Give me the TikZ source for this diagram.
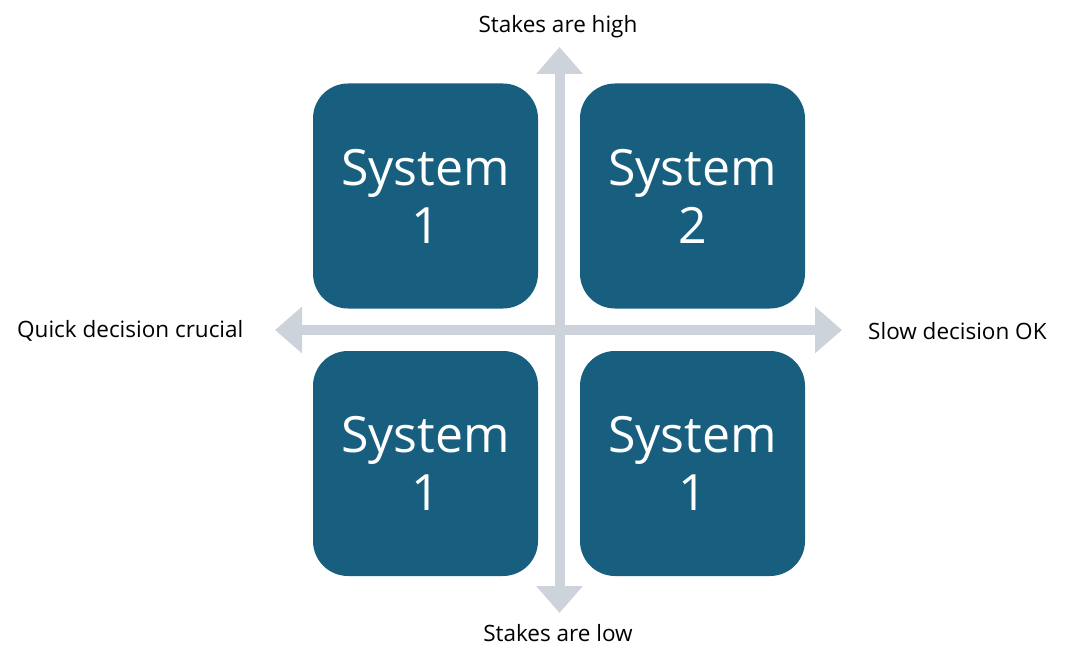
\documentclass[tikz,border=0pt]{standalone}
\usepackage{fontspec}
\setmainfont{Open Sans}
\usetikzlibrary{arrows.meta}
\definecolor{boxblue}{RGB}{23,94,127}
\definecolor{axisgray}{RGB}{205,211,218}
\tikzset{
  sysbox/.style={fill=boxblue, rounded corners=35bp, minimum width=225bp, minimum height=225bp, inner sep=0pt, text=white, align=center, font=\fontsize{50bp}{58bp}\selectfont},
  axislabel/.style={inner sep=0pt, text=black, font=\fontsize{22.5bp}{26bp}\selectfont},
  axisarrow/.style={draw=axisgray, line width=10bp, {Triangle[length=27bp,width=45bp]}-{Triangle[length=27bp,width=45bp]}}
}
\begin{document}
\begin{tikzpicture}[x=1bp,y=-1bp]
\useasboundingbox (0,0) rectangle (1072,656);
\coordinate (top) at (559.5,47);
\coordinate (bot) at (559.5,613);
\coordinate (lft) at (275,330);
\coordinate (rgt) at (842,330);
\draw[axisarrow] (lft) -- (rgt);
\draw[axisarrow] (bot) -- (top);
\node[sysbox] (tl) at (425.5,196) {System\\1};
\node[sysbox] (tr) at (692.5,196) {System\\2};
\node[sysbox] (bl) at (425.5,463.5) {System\\1};
\node[sysbox] (br) at (692.5,463.5) {System\\1};
\node[axislabel] (high) at (558,27) {Stakes are high};
\node[axislabel] (low) at (558,633) {Stakes are low};
\node[axislabel, anchor=west] (quick) at (17,331) {Quick decision crucial};
\node[axislabel, anchor=west] (slow) at (868,331) {Slow decision OK};
\end{tikzpicture}
\end{document}
